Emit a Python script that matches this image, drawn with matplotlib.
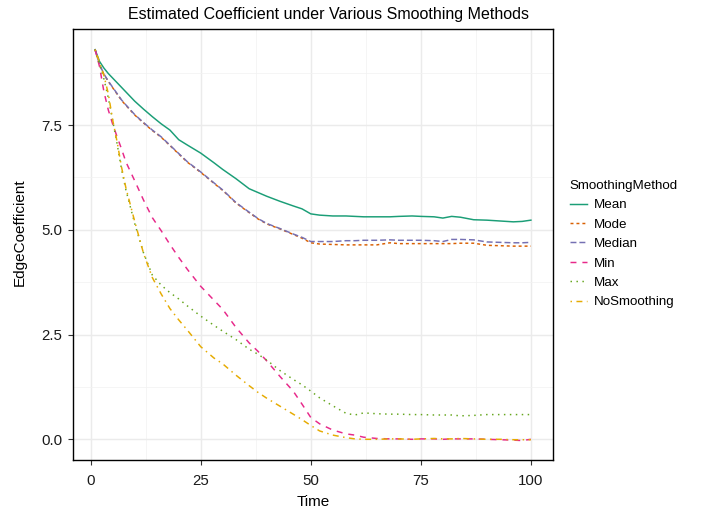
import matplotlib
matplotlib.use("Agg")
import matplotlib.pyplot as plt
import numpy as np

plt.rcParams['font.family'] = ['Liberation Sans', 'DejaVu Sans']

time = [1, 2, 3, 4, 5, 6, 7, 8, 10, 12, 14, 16, 18, 20, 22, 25, 28, 30, 33, 36, 38, 40,
        43, 46, 48, 50, 52, 55, 58, 60, 62, 65, 68, 70, 73, 75, 78, 80, 82, 84, 87, 90,
        93, 96, 98, 100]

mean_vals = [9.30, 9.02, 8.86, 8.73, 8.62, 8.51, 8.40, 8.29, 8.07, 7.88, 7.70, 7.53, 7.38,
             7.15, 7.02, 6.83, 6.60, 6.44, 6.22, 5.98, 5.89, 5.80, 5.68, 5.57, 5.50, 5.38,
             5.35, 5.33, 5.33, 5.32, 5.31, 5.31, 5.31, 5.32, 5.33, 5.32, 5.31, 5.28, 5.32,
             5.30, 5.24, 5.23, 5.21, 5.19, 5.20, 5.23]

mode_vals = [9.30, 8.94, 8.71, 8.54, 8.39, 8.24, 8.09, 7.97, 7.74, 7.55, 7.37, 7.21, 7.01,
             6.81, 6.61, 6.37, 6.11, 5.94, 5.64, 5.41, 5.26, 5.14, 5.02, 4.89, 4.80, 4.69,
             4.66, 4.65, 4.64, 4.64, 4.64, 4.64, 4.69, 4.67, 4.67, 4.67, 4.67, 4.67, 4.67,
             4.68, 4.68, 4.63, 4.62, 4.61, 4.61, 4.61]

median_vals = [9.30, 8.95, 8.72, 8.55, 8.40, 8.25, 8.10, 7.98, 7.75, 7.56, 7.38, 7.22, 7.02,
               6.82, 6.62, 6.38, 6.12, 5.95, 5.65, 5.42, 5.27, 5.15, 5.03, 4.90, 4.82, 4.72,
               4.72, 4.72, 4.74, 4.74, 4.75, 4.75, 4.76, 4.75, 4.75, 4.75, 4.74, 4.72, 4.77,
               4.77, 4.76, 4.71, 4.70, 4.69, 4.69, 4.70]

min_vals = [9.30, 8.90, 8.30, 7.86, 7.52, 7.22, 6.93, 6.62, 6.17, 5.71, 5.29, 4.98, 4.65,
            4.34, 4.05, 3.65, 3.32, 3.10, 2.67, 2.30, 2.10, 1.87, 1.50, 1.15, 0.84, 0.52,
            0.37, 0.22, 0.13, 0.10, 0.05, 0.02, 0.01, 0.01, 0.00, 0.01, 0.01, 0.00, 0.01,
            0.01, 0.01, 0.00, -0.01, -0.02, -0.03, 0.00]

max_vals = [9.30, 8.95, 8.60, 8.15, 7.60, 7.05, 6.45, 5.95, 5.15, 4.45, 3.92, 3.68, 3.50,
            3.35, 3.18, 2.94, 2.72, 2.58, 2.38, 2.15, 2.03, 1.89, 1.64, 1.43, 1.30, 1.15,
            0.99, 0.80, 0.62, 0.58, 0.63, 0.61, 0.60, 0.60, 0.59, 0.59, 0.58, 0.58, 0.58,
            0.56, 0.57, 0.59, 0.59, 0.59, 0.59, 0.59]

nosmooth_vals = [9.30, 9.00, 8.68, 8.25, 7.62, 7.10, 6.50, 6.00, 5.20, 4.44, 3.86, 3.47, 3.12,
                 2.85, 2.60, 2.21, 1.94, 1.80, 1.53, 1.28, 1.12, 0.98, 0.79, 0.60, 0.47, 0.33,
                 0.20, 0.10, 0.04, 0.01, 0.00, 0.00, 0.01, 0.01, 0.00, 0.01, 0.02, 0.01, 0.01,
                 0.02, 0.01, 0.00, 0.00, -0.01, -0.01, -0.01]

methods = ["Mean", "Mode", "Median", "Min", "Max", "NoSmoothing"]
series = [mean_vals, mode_vals, median_vals, min_vals, max_vals, nosmooth_vals]
colors = ["#1B9E77", "#D95F02", "#7570B3", "#E7298A", "#66A61E", "#E6AB02"]
styles = ["-", (0, (2, 2)), (0, (4, 2)), (0, (4, 4)), (0, (1, 3)), (0, (1, 3, 4, 3))]

W, H = 701, 512
fig = plt.figure(figsize=(W / 100, H / 100), dpi=100)
ax = fig.add_axes([73.3 / W, 1 - 460 / H, (552.7 - 73.3) / W, (460 - 29.3) / H])

for name, vals, c, ls in zip(methods, series, colors, styles):
    ax.plot(time, vals, color=c, linestyle=ls, linewidth=1.07, label=name)

ax.set_xlim(-3.95, 104.95)
ax.set_ylim(-0.494, 9.785)
ax.set_xticks([0, 25, 50, 75, 100])
ax.set_yticks([0.0, 2.5, 5.0, 7.5])
ax.set_yticklabels(["0.0", "2.5", "5.0", "7.5"])
ax.set_xticks([12.5, 37.5, 62.5, 87.5], minor=True)
ax.set_yticks([1.25, 3.75, 6.25, 8.75], minor=True)
ax.grid(which='major', color='#EBEBEB', linewidth=1.07)
ax.grid(which='minor', color='#F2F2F2', linewidth=0.55)
ax.set_axisbelow(True)
ax.tick_params(which='minor', length=0)
ax.tick_params(which='major', length=3.6, width=0.8, color='#333333',
               labelsize=10.8, labelcolor='#1a1a1a')
ax.tick_params(axis='x', pad=6.5)
ax.tick_params(axis='y', pad=4.5)
for s in ax.spines.values():
    s.set_color('black')
    s.set_linewidth(1.0)

ax.set_xlabel("Time", fontsize=11, color='black', labelpad=5)
fig.text(20 / W, 1 - 231.7 / H, "EdgeCoefficient", rotation=90, fontsize=11,
         color='black', ha='center', va='center')
fig.text(328 / W, 1 - 14 / H, "Estimated Coefficient under Various Smoothing Methods",
         fontsize=11.5, color='black', ha='center', va='center')

leg = fig.legend(loc='upper left', bbox_to_anchor=(0.805, 0.659), frameon=False,
                 title="SmoothingMethod", fontsize=9.6, title_fontsize=9.6,
                 handlelength=1.3, handletextpad=0.5, labelspacing=0.53,
                 alignment='left', borderaxespad=0)

fig.savefig("out.png", dpi=100)
